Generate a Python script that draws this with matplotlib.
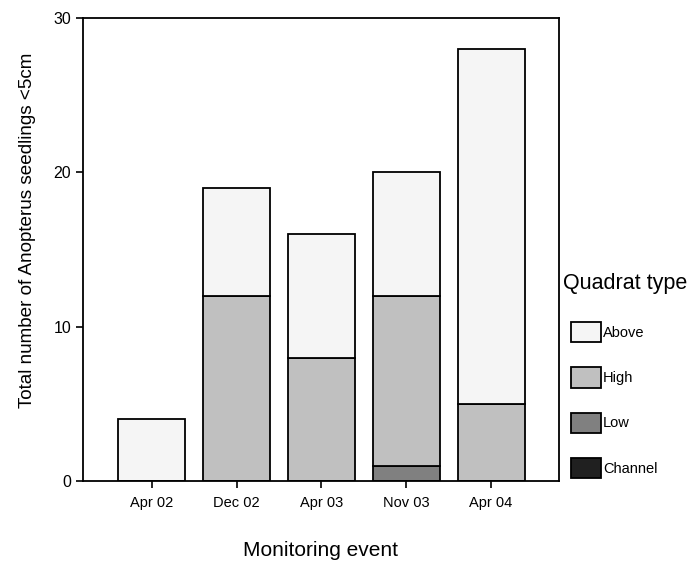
import matplotlib
matplotlib.use("Agg")
import matplotlib.pyplot as plt
from matplotlib.patches import Patch
import numpy as np

plt.rcParams['font.family'] = ['Liberation Sans', 'DejaVu Sans']

events = ["Apr 02", "Dec 02", "Apr 03", "Nov 03", "Apr 04"]
channel = [0, 0, 0, 0, 0]
low = [0, 0, 0, 1, 0]
high = [0, 12, 8, 11, 5]
above = [4, 7, 8, 8, 23]

series = [("Channel", channel, "#202020"),
          ("Low", low, "#808080"),
          ("High", high, "#c0c0c0"),
          ("Above", above, "#f5f5f5")]

fig = plt.figure(figsize=(6.97, 5.65), dpi=100)
ax = fig.add_axes([0.119, 0.1487, 0.683, 0.8193])

x = np.arange(len(events))
bottom = np.zeros(len(events))
for name, vals, col in series:
    vals = np.asarray(vals, dtype=float)
    mask = vals > 0
    ax.bar(x[mask], vals[mask], bottom=bottom[mask], width=0.79,
           color=col, edgecolor="black", linewidth=1.3)
    bottom += vals

ax.set_xlim(-0.81, 4.8)
ax.set_ylim(0, 30)
ax.set_yticks([0, 10, 20, 30])
ax.set_xticks(x)
ax.set_xticklabels(events, fontsize=10.5)
ax.tick_params(axis="y", labelsize=11.5, length=5, width=1.2, direction="out")
ax.tick_params(axis="x", length=5, width=1.2, direction="out", pad=6)
for s in ax.spines.values():
    s.set_linewidth(1.3)

ax.set_ylabel("Total number of Anopterus seedlings <5cm", fontsize=13.6)
ax.yaxis.set_label_coords(-0.099, 0.542)
ax.set_xlabel("Monitoring event", fontsize=15, labelpad=22)

handles = [Patch(facecolor=col, edgecolor="black", linewidth=1.3, label=name)
           for name, _, col in series[::-1]]
fig.legend(handles=handles, loc="upper left",
           bbox_to_anchor=(0.8192, 0.430), frameon=False,
           fontsize=10.5, handlelength=2.06, handleheight=1.78,
           labelspacing=1.7, handletextpad=0.15, borderpad=0,
           borderaxespad=0)
fig.text(0.8078, 0.4885, "Quadrat type", fontsize=15.5, ha="left", va="baseline")

fig.savefig("out.png", dpi=100)
